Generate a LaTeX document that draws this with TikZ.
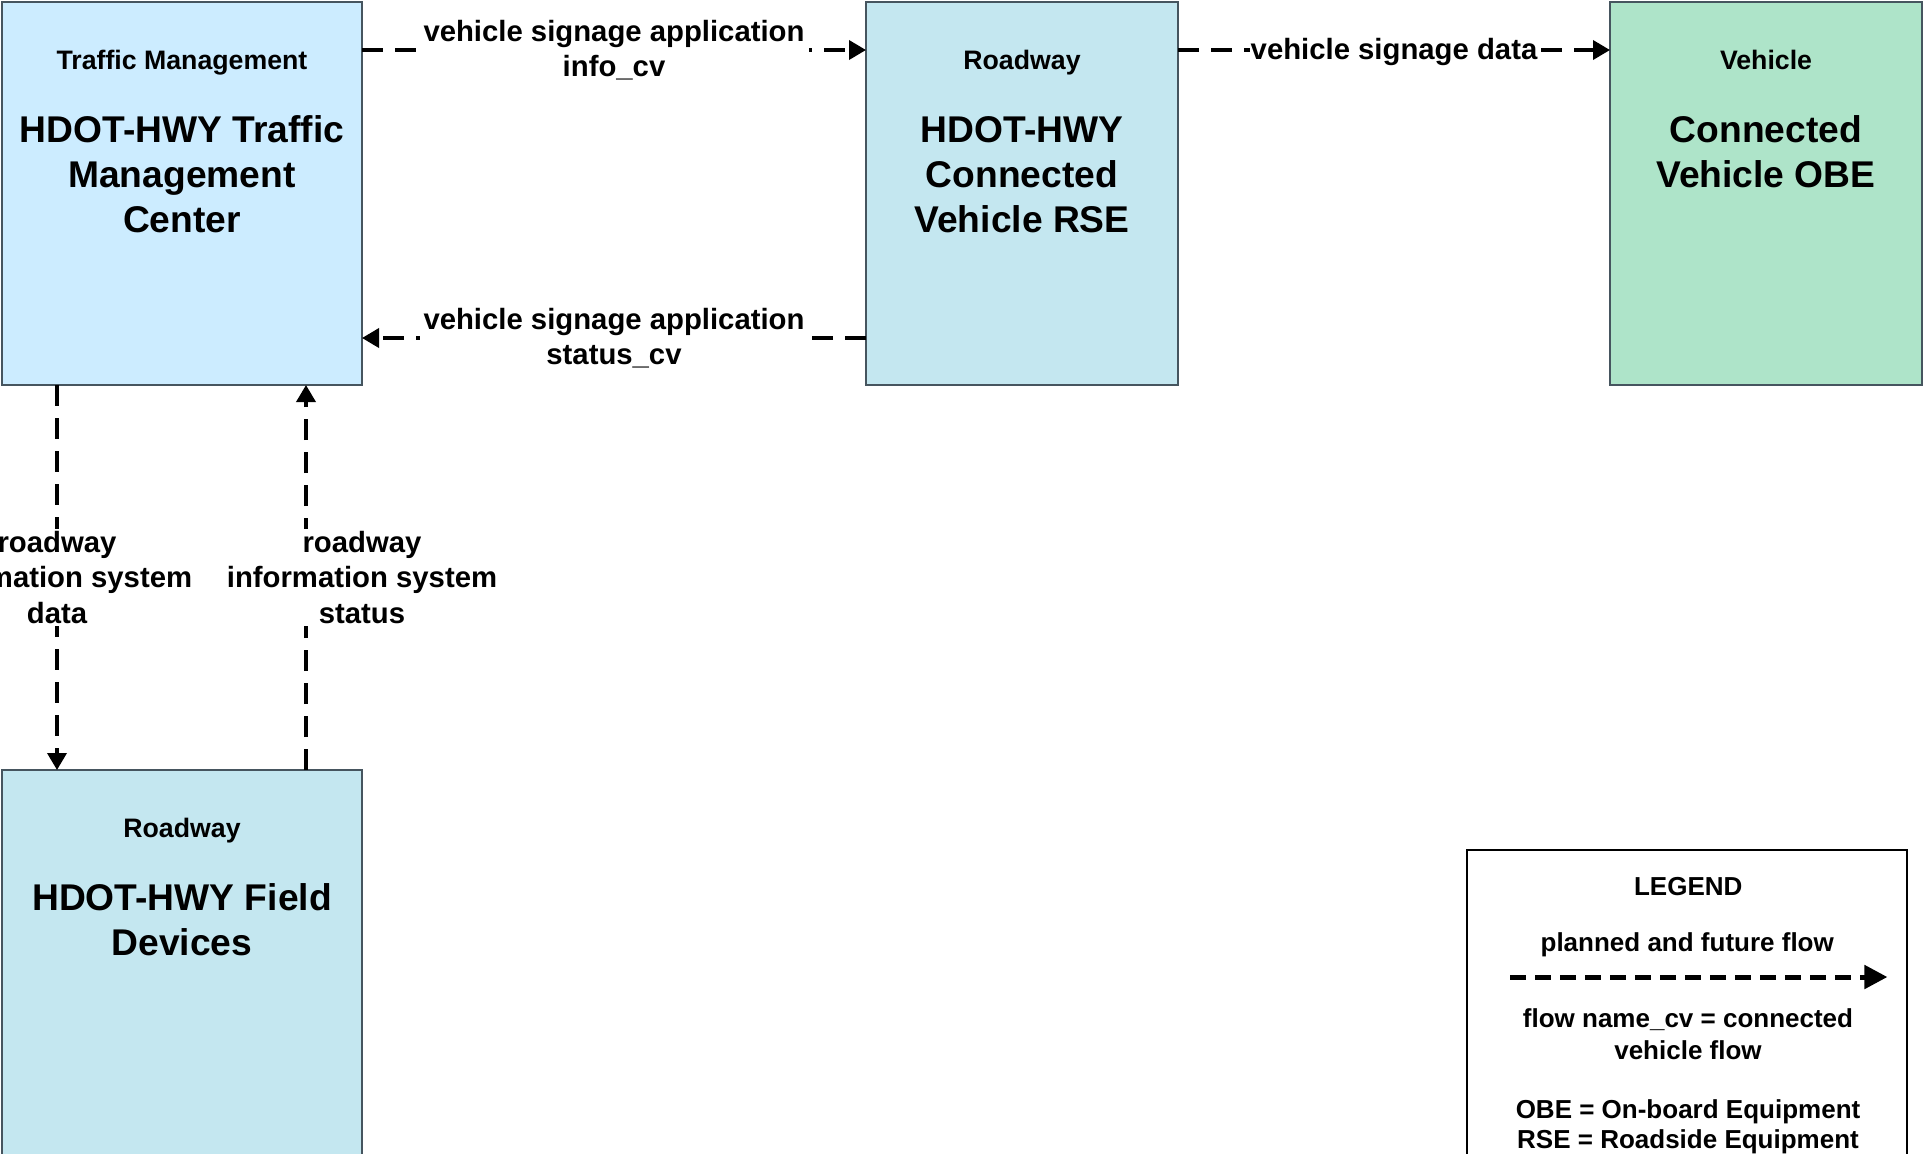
\documentclass[tikz,border=0pt]{standalone}
\usepackage{fontspec}
\setmainfont{Liberation Sans}
\usepackage{tikz}
\usetikzlibrary{positioning, calc}
\usetikzlibrary{arrows.meta}
\definecolor{tmcblue}{RGB}{204,236,255}
\definecolor{rseblue}{RGB}{196,231,240}
\definecolor{obegreen}{RGB}{174,228,201}
\definecolor{boxedge}{RGB}{70,85,95}
\tikzstyle{elembox}=[rectangle,line width=0.8pt,draw=boxedge,outer sep=0pt,
minimum width=180pt,minimum height=191.5pt]
\tikzstyle{classtext}=[font=\bfseries\fontsize{13.35}{16}\selectfont,align=center,
anchor=base]
\tikzstyle{elemtext}=[font=\bfseries\fontsize{18.6}{22.5}\selectfont,align=center]
\tikzstyle{flowtext}=[font=\bfseries\fontsize{14.65}{17.8}\selectfont,align=center,
fill=white,inner xsep=2pt,inner ysep=1pt]
\tikzstyle{legendtext}=[font=\bfseries\fontsize{13}{16}\selectfont,align=center]
\tikzstyle{flowpath} = [line width=1.8pt,dash pattern=on 10.5pt off 6pt,
-{Triangle[length=8.5pt,width=9.5pt]}]

\begin{document}
\begin{tikzpicture}[x=0.5pt,y=-0.5pt]
    \useasboundingbox (0,0) rectangle (1925,1153);
    \clip (0,0) rectangle (1925,1153);

    % elements
    \node[elembox, fill=tmcblue, anchor=north west] (tmc) at (2,2) {};
    \node[elembox, fill=rseblue, minimum width=156pt, right=252pt of tmc] (rse) {};
    \node[elembox, fill=obegreen, minimum width=156pt, right=216pt of rse] (obe) {};
    \node[elembox, fill=rseblue, minimum height=200pt, anchor=north,
        below=192.5pt of tmc] (field) {};
    \node[rectangle, line width=1.2pt, draw=black, minimum width=220pt,
        minimum height=200pt, anchor=north west] (legend) at (1466,849) {};

    % element names
    \node[classtext] (tmcclass) at ($(tmc.north)+(0,67)$) {Traffic Management};
    \node[elemtext] (tmcname) at ($(tmc.north)+(0,172)$)
        {HDOT-HWY Traffic\\Management\\Center};
    \node[classtext] (rseclass) at ($(rse.north)+(0,67)$) {Roadway};
    \node[elemtext] (rsename) at ($(rse.north)+(0,173)$)
        {HDOT-HWY\\Connected\\Vehicle RSE};
    \node[classtext] (obeclass) at ($(obe.north)+(0,67)$) {Vehicle};
    \node[elemtext] (obename) at ($(obe.north)+(0,150)$)
        {Connected\\Vehicle OBE};
    \node[classtext] (fieldclass) at ($(field.north)+(0,67)$) {Roadway};
    \node[elemtext] (fieldname) at ($(field.north)+(0,150)$)
        {HDOT-HWY Field\\Devices};

    % flows
    \draw[flowpath] ($(tmc.north east)+(0,48)$) -- ($(rse.north west)+(0,48)$)
        node[flowtext, midway] (f1) {vehicle signage application\\info\_cv};
    \draw[flowpath] ($(rse.south west)+(0,-47)$) -- ($(tmc.south east)+(0,-47)$)
        node[flowtext, midway] (f2) {vehicle signage application\\status\_cv};
    \draw[flowpath] ($(rse.north east)+(0,48)$) -- ($(obe.north west)+(0,48)$)
        node[flowtext, inner xsep=0.5pt, midway, yshift=-1.2pt] (f3) {vehicle signage data};
    \draw[flowpath] ($(tmc.south west)+(55,0)$) -- ($(field.north west)+(55,0)$)
        node[flowtext, midway] (f4) {roadway\\information system\\data};
    \draw[flowpath] ($(field.north west)+(304,0)$) -- ($(tmc.south west)+(304,0)$)
        node[flowtext, midway, xshift=28pt] (f5) {roadway\\information system\\status};

    % legend
    \node[legendtext] (legtitle) at ($(legend.north)+(1,38)$) {LEGEND};
    \node[legendtext] (legflow) at ($(legend.north)+(0,96)$) {planned and future flow};
    \coordinate (legstart) at ($(legend.north west)+(44,128)$);
    \coordinate (legtip) at ($(legend.north east)+(-21,128)$);
    \draw[line width=2.5pt, dash pattern=on 8pt off 4.5pt,
        -{Triangle[length=11.5pt,width=11.5pt]}] (legstart) -- (legtip);
    \node[legendtext] (legcv) at ($(legstart)+(178,57)$)
        {flow name\_cv = connected\\vehicle flow};
    \node[legendtext, font=\bfseries\fontsize{13}{15}\selectfont] (legabbr)
        at ($(legstart)+(178,150)$) {OBE = On-board Equipment\\RSE = Roadside Equipment};
\end{tikzpicture}
\end{document}
